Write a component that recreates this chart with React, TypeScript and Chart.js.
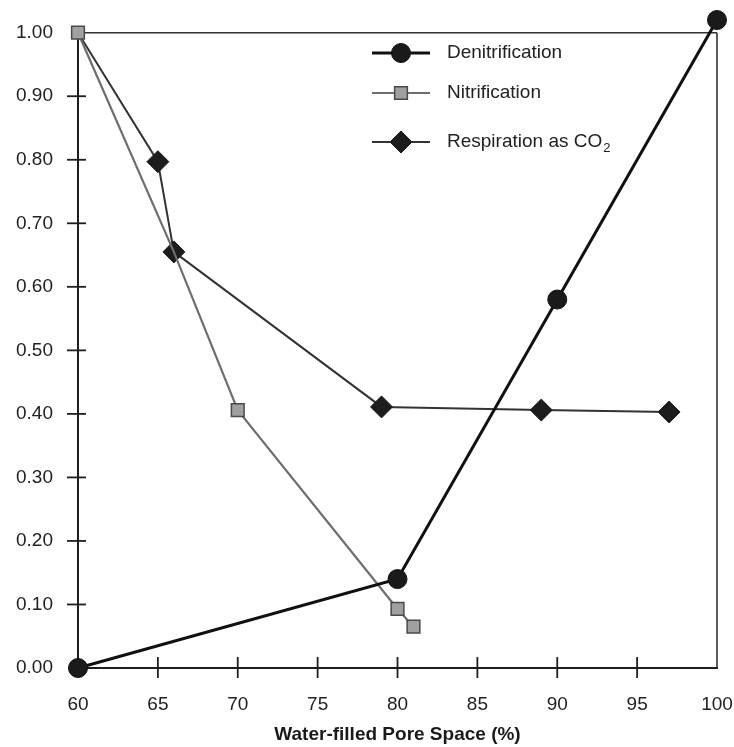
import React, { useEffect, useRef } from 'react';
import { Chart, registerables } from 'chart.js';

Chart.register(...registerables);

// ---- data ----
const denitX = [60, 80, 90, 100];
const denitY = [0.0, 0.14, 0.58, 1.02];

const nitX = [60, 66, 70, 80, 81];
const nitY = [1.0, 0.655, 0.406, 0.093, 0.065];

const respX = [60, 65, 66, 79, 89, 97];
const respY = [1.0, 0.797, 0.655, 0.411, 0.406, 0.403];

const seriesNames = ['Denitrification', 'Nitrification', 'Respiration as CO₂'];

const xTicks = [60, 65, 70, 75, 80, 85, 90, 95, 100];
const yTicks = [0, 0.1, 0.2, 0.3, 0.4, 0.5, 0.6, 0.7, 0.8, 0.9, 1.0];
const yFrameTop = 1.0;

const xTitle = 'Water-filled Pore Space (%)';

const FONT = "'Liberation Sans', Arial, Helvetica, sans-serif";

function zip(xs: number[], ys: number[]) {
  return xs.map((x, i) => ({ x, y: ys[i] }));
}

function drawMarker(ctx: CanvasRenderingContext2D, style: string, x: number, y: number, r: number, fill: string, stroke: string, bw: number) {
  ctx.save();
  ctx.beginPath();
  if (style === 'circle') {
    ctx.arc(x, y, r, 0, Math.PI * 2);
  } else if (style === 'rect') {
    const s = r * Math.SQRT1_2;
    ctx.rect(x - s, y - s, 2 * s, 2 * s);
  } else {
    ctx.moveTo(x, y - r);
    ctx.lineTo(x + r, y);
    ctx.lineTo(x, y + r);
    ctx.lineTo(x - r, y);
    ctx.closePath();
  }
  ctx.fillStyle = fill;
  ctx.fill();
  ctx.lineWidth = bw;
  ctx.strokeStyle = stroke;
  ctx.stroke();
  ctx.restore();
}

const framePlugin = {
  id: 'frameTicks',
  beforeDatasetsDraw(chart: any) {
    const { ctx, chartArea } = chart;
    const { left, right, bottom } = chartArea;
    const xs = chart.scales.x;
    const ys = chart.scales.y;
    const top = ys.getPixelForValue(yFrameTop);
    const line = (x1: number, y1: number, x2: number, y2: number) => {
      ctx.beginPath();
      ctx.moveTo(x1, y1);
      ctx.lineTo(x2, y2);
      ctx.stroke();
    };
    ctx.save();
    ctx.lineCap = 'butt';
    ctx.strokeStyle = '#1e1e1e';
    ctx.lineWidth = 2;
    line(left, top, left, bottom + 1);
    line(left - 1, bottom, right + 1, bottom);
    ctx.strokeStyle = '#333';
    ctx.lineWidth = 1.6;
    line(left, top, right, top);
    line(right, top, right, bottom);
    ctx.strokeStyle = '#1e1e1e';
    ctx.lineWidth = 1.8;
    yTicks.forEach((v) => {
      if (v <= 0 || v >= 1) return;
      const py = ys.getPixelForValue(v);
      line(left - 11, py, left + 8, py);
    });
    xTicks.forEach((v) => {
      if (v <= 60 || v >= 100) return;
      const px = xs.getPixelForValue(v);
      line(px, bottom - 11, px, bottom + 10);
    });
    ctx.restore();
  },
};

const legendPlugin = {
  id: 'insideLegend',
  afterDatasetsDraw(chart: any) {
    const { ctx } = chart;
    const rowsY = [53, 93, 142];
    const x0 = 372;
    const x1 = 430;
    const mx = 401;
    const tx = 447;
    ctx.save();
    chart.data.datasets.forEach((ds: any, i: number) => {
      const y = rowsY[i];
      ctx.strokeStyle = ds.borderColor;
      ctx.lineWidth = ds.borderWidth;
      ctx.beginPath();
      ctx.moveTo(x0, y);
      ctx.lineTo(x1, y);
      ctx.stroke();
      const r = Array.isArray(ds.pointRadius) ? Math.max(...ds.pointRadius) : ds.pointRadius;
      drawMarker(ctx, ds.pointStyle, mx, y, r, ds.pointBackgroundColor, ds.pointBorderColor, ds.pointBorderWidth);
      let label: string = ds.label;
      let sub = '';
      if (label.endsWith('₂')) {
        label = label.slice(0, -1);
        sub = '2';
      }
      ctx.fillStyle = '#222';
      ctx.textBaseline = 'middle';
      ctx.textAlign = 'left';
      ctx.font = `19px ${FONT}`;
      ctx.fillText(label, tx, y);
      if (sub) {
        const w = ctx.measureText(label).width;
        ctx.font = `13px ${FONT}`;
        ctx.fillText(sub, tx + w + 1, y + 6);
      }
    });
    ctx.restore();
  },
};

export default function App() {
  const ref = useRef<HTMLCanvasElement | null>(null);

  useEffect(() => {
    if (!ref.current) return;
    const chart = new Chart(ref.current, {
      type: 'scatter',
      data: {
        datasets: [
          {
            label: seriesNames[0],
            data: zip(denitX, denitY),
            showLine: true,
            borderColor: '#111',
            borderWidth: 3,
            pointStyle: 'circle',
            pointRadius: 9.5,
            pointBackgroundColor: '#1a1a1a',
            pointBorderColor: '#111',
            pointBorderWidth: 1,
            clip: false,
          } as any,
          {
            label: seriesNames[1],
            data: zip(nitX, nitY),
            showLine: true,
            borderColor: '#6e6e6e',
            borderWidth: 2.2,
            pointStyle: 'rect',
            pointRadius: [9, 0, 9, 9, 9],
            pointBackgroundColor: '#a0a0a0',
            pointBorderColor: '#4a4a4a',
            pointBorderWidth: 1.5,
            clip: false,
          } as any,
          {
            label: seriesNames[2],
            data: zip(respX, respY),
            showLine: true,
            borderColor: '#333',
            borderWidth: 2,
            pointStyle: 'rectRot',
            pointRadius: [0, 11, 11, 11, 11, 11],
            pointBackgroundColor: '#1c1c1c',
            pointBorderColor: '#1c1c1c',
            pointBorderWidth: 1,
            clip: false,
          } as any,
        ],
      },
      options: {
        animation: false,
        responsive: false,
        devicePixelRatio: 1,
        layout: { padding: { top: 20, right: 17, left: 0, bottom: 0 } },
        plugins: {
          legend: { display: false },
          tooltip: { enabled: false },
        },
        elements: { line: { tension: 0 } },
        scales: {
          x: {
            type: 'linear',
            min: 60,
            max: 100,
            grid: { display: false, drawTicks: false },
            border: { display: false },
            afterBuildTicks: (s: any) => {
              s.ticks = xTicks.map((v) => ({ value: v }));
            },
            afterFit: (s: any) => {
              s.height = 79;
              s.paddingLeft = 0;
              s.paddingRight = 0;
            },
            ticks: {
              color: '#222',
              padding: 25,
              maxRotation: 0,
              autoSkip: false,
              font: { family: FONT, size: 19 },
              callback: (v: any) => String(v),
            },
            title: {
              display: true,
              text: xTitle,
              color: '#1a1a1a',
              font: { family: FONT, size: 19, weight: 'bold' },
              padding: { top: 0, bottom: 1 },
            },
          },
          y: {
            type: 'linear',
            min: 0,
            max: 1.02,
            grid: { display: false, drawTicks: false },
            border: { display: false },
            afterBuildTicks: (s: any) => {
              s.ticks = yTicks.map((v) => ({ value: v }));
            },
            afterFit: (s: any) => {
              s.width = 78;
              s.paddingTop = 0;
              s.paddingBottom = 0;
            },
            ticks: {
              color: '#222',
              padding: 25,
              autoSkip: false,
              font: { family: FONT, size: 19 },
              callback: (v: any) => Number(v).toFixed(2),
            },
          },
        },
      },
      plugins: [framePlugin, legendPlugin],
    });
    return () => chart.destroy();
  }, []);

  return (
    <div style={{ position: 'absolute', left: 0, top: 0, width: 734, height: 747, background: '#fff' }}>
      <canvas ref={ref} width={734} height={747} style={{ display: 'block', width: 734, height: 747 }} />
    </div>
  );
}
